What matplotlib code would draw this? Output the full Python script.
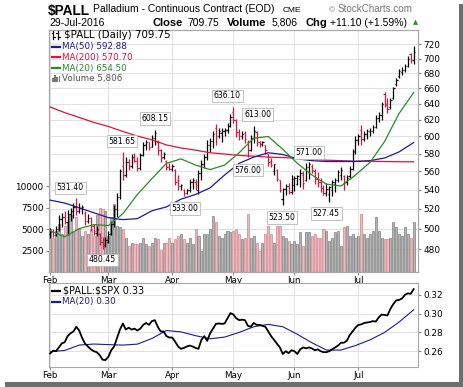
import numpy as np
import pandas as pd
import matplotlib
matplotlib.use('Agg')
import matplotlib.pyplot as plt
from matplotlib import transforms
from matplotlib.patches import Rectangle
from matplotlib.lines import Line2D
from matplotlib.ticker import NullLocator, NullFormatter, FixedLocator, FixedFormatter

# ---------------- data ----------------
holidays = ['2016-02-15', '2016-03-25', '2016-05-30', '2016-07-04']
dates = pd.bdate_range('2016-02-01', '2016-07-29')
dates = dates[~dates.isin(pd.to_datetime(holidays))]

opens = [495, 497, 494, 500, 510, 512, 507, 515, 518, 522, 518, 521, 516, 508, 511, 503, 496, 495, 487, 484,
         487, 495, 505, 520, 532, 566, 556, 570, 566, 576, 572, 564, 578, 590, 593, 588, 598, 594, 584, 576, 572, 565,
         563, 562, 550, 544, 540, 536, 540, 548, 548, 540, 558, 568, 576, 590, 595, 610, 600, 604, 607, 608, 613,
         630, 620, 605, 600, 604, 594, 584, 598, 605, 594, 591, 590, 580, 572, 560, 562, 550, 530, 541, 544, 538,
         545, 546, 552, 556, 550, 565, 566, 560, 552, 548, 542, 537, 535, 540, 546, 551, 556, 555, 548, 555, 563, 583,
         596, 608, 597, 603, 606, 607, 611, 622, 626, 652, 640, 636, 648, 665, 676, 682, 684, 690, 706, 698]
highs = [501, 500, 503, 514, 516, 518, 519, 521, 526, 531.40, 526, 524, 518, 515, 512, 505, 503, 496, 492, 492,
         498, 508, 524, 536, 563, 581.65, 576, 574, 580, 581, 576, 581, 594, 596, 594, 602, 608.15, 596, 585, 582, 573, 569,
         568, 563, 556, 546, 541, 541, 552, 553, 552, 562, 573, 580, 596, 598, 606, 615, 610, 610, 610, 616, 627,
         636.10, 621, 609, 606, 607, 596, 602, 613, 606, 595, 595, 590, 580, 575, 568, 563, 551, 542, 546, 547, 556,
         555, 556, 563, 560, 569, 571, 568, 563, 559, 553, 545, 547, 544, 551, 553, 562, 565, 556, 556, 566, 585, 600,
         603, 614, 606, 609, 610, 614, 626, 630, 642, 655, 647, 648, 662, 674, 686, 688, 692, 703, 708, 717]
lows = [491, 492, 493, 498, 502, 505, 494, 508, 511, 514, 516, 515, 504, 506, 498, 494, 493, 484, 480.45, 482,
        486, 494, 502, 512, 530, 550, 554, 561, 564, 570, 560, 562, 577, 584, 584, 588, 590, 578, 570, 574, 562, 561,
        560, 545, 540, 540, 533.00, 535, 538, 541, 540, 535, 551, 564, 573, 582, 587, 590, 598, 593, 600, 604, 611,
        616, 599, 596, 597, 592, 576.00, 583, 592, 589, 588, 589, 580, 566, 565, 556, 549, 538, 523.50, 534, 535, 535,
        539, 545, 543, 541, 549, 552, 558, 546, 543, 538, 534, 533, 527.45, 533, 538, 548, 551, 540, 545, 552, 562, 580,
        590, 590, 595, 597, 600, 604, 610, 618, 620, 636, 629, 634, 646, 663, 674, 678, 682, 688, 694, 692]
closes = [497, 494, 500, 510, 512, 507, 515, 518, 522, 518, 521, 522, 508, 511, 503, 498, 500, 487, 484, 489,
          495, 505, 520, 532, 560, 556, 570, 566, 576, 572, 564, 578, 590, 593, 588, 598, 604, 584, 575, 580, 565, 563,
          566, 548, 544, 545, 536, 540, 548, 550, 545, 558, 568, 576, 590, 595, 603, 600, 606, 607, 608, 613, 624,
          620, 605, 601, 603, 597, 584, 598, 606, 594, 591, 593, 584, 570, 567, 568, 552, 540, 541, 544, 538, 552,
          553, 555, 558, 547, 565, 568, 561, 552, 548, 542, 537, 541, 543, 548, 551, 559, 562, 547, 553, 563, 582, 596,
          600, 597, 603, 606, 607, 611, 622, 626, 640, 639, 633, 645, 660, 671, 683, 685, 690, 700, 698.65, 709.75]
volumes = [5000, 4000, 4800, 5600, 4400, 5400, 5800, 6600, 4600, 6400, 5000, 4200, 4800, 4400, 5000, 4200, 6600, 7500, 7300, 7100,
           4200, 6400, 7900, 5400, 5200, 5000, 4000, 3000, 3400, 3200, 3200, 3400, 4000, 3200, 3000, 3400, 4000, 3800, 2600, 3400, 3400, 4000,
           3400, 3800, 4200, 4400, 3800, 3400, 4000, 3200, 5000, 4200, 2400, 4400, 4400, 5000, 6500, 5800, 4200, 4000, 4400, 4800, 4600,
           4800, 5000, 4400, 3800, 4000, 6700, 4000, 4200, 3400, 2400, 3400, 4400, 5400, 4400, 3400, 5400, 5400, 4200, 4000, 3600, 3200,
           3600, 3200, 4600, 3000, 4600, 4600, 4200, 4400, 4000, 4000, 5000, 4800, 3600, 4000, 4600, 4800, 3000, 5200, 5400, 4200, 4400, 4000,
           4200, 6700, 4400, 4000, 4400, 4800, 6400, 4800, 4000, 3800, 3800, 4000, 5800, 5200, 4400, 4200, 5200, 4400, 4000, 5806]

# moving averages every 5 sessions
ma_pos = list(range(0, 126, 5))
ma50 = [529, 526, 521, 516, 511, 509, 510, 518, 522, 530, 535, 542, 556, 569, 576, 581, 579, 574, 572, 571,
        571, 571, 572, 575, 582, 592.88]
ma200 = [636, 629, 623, 617, 612, 606, 600.5, 596, 590, 586.5, 584, 581, 579.5, 578, 577, 576, 575.5, 574.5,
         573.5, 572.5, 572, 571.5, 571.2, 571, 570.8, 570.70]
ma20 = [498, 492, 500, 504, 503, 515, 535, 552, 569, 574, 567, 562, 567, 581, 598, 600, 585, 569, 556, 546,
        544, 556, 570, 594, 628, 654.50]

ratio = [0.2576, 0.2605, 0.2600, 0.2640, 0.2683, 0.2695, 0.2760, 0.2790, 0.2810, 0.2860, 0.2820, 0.2740, 0.2680,
         0.2650, 0.2620, 0.2600, 0.2590, 0.2560, 0.2510, 0.2505,
         0.2540, 0.2610, 0.2650, 0.2740, 0.2830, 0.2895, 0.2830, 0.2850, 0.2830, 0.2840, 0.2820, 0.2840, 0.2880,
         0.2900, 0.2880, 0.2920, 0.2930, 0.2860, 0.2810, 0.2810, 0.2760, 0.2745,
         0.2745, 0.2700, 0.2650, 0.2625, 0.2635, 0.2650, 0.2660, 0.2650, 0.2635, 0.2625, 0.2720, 0.2760, 0.2710,
         0.2790, 0.2840, 0.2890, 0.2895, 0.2890, 0.2895, 0.2950, 0.3005,
         0.2990, 0.2950, 0.2930, 0.2935, 0.2930, 0.2870, 0.2860, 0.2900, 0.2880, 0.2880, 0.2870, 0.2860, 0.2810,
         0.2760, 0.2720, 0.2680, 0.2640, 0.2570, 0.2600, 0.2580, 0.2610,
         0.2600, 0.2570, 0.2620, 0.2640, 0.2630, 0.2640, 0.2630, 0.2610, 0.2620, 0.2600, 0.2590, 0.2590, 0.2600,
         0.2620, 0.2640, 0.2660, 0.2690, 0.2690, 0.2710, 0.2770, 0.2810, 0.2850,
         0.2880, 0.2885, 0.2900, 0.2905, 0.2910, 0.2920, 0.2915, 0.2960, 0.2990, 0.2985, 0.2980, 0.3050, 0.3100,
         0.3140, 0.3145, 0.3160, 0.3200, 0.3215, 0.3210, 0.3260]
ratio_ma20 = [0.2594, 0.2608, 0.2665, 0.2676, 0.2670, 0.2665, 0.2675, 0.2735, 0.2820, 0.2805, 0.2765, 0.2732,
              0.2750, 0.2800, 0.2860, 0.2885, 0.2860, 0.2780, 0.2690, 0.2612, 0.2612, 0.2660, 0.2720, 0.2800,
              0.2910, 0.3040]

ann_pos = [9, 18, 25, 36, 46, 63, 68, 70, 80, 89, 96]
ann_kind = ['high', 'low', 'high', 'high', 'low', 'high', 'low', 'high', 'low', 'high', 'low']

price_ticks = [480, 500, 520, 540, 560, 580, 600, 620, 640, 660, 680, 700, 720]
vol_ticks = [2500, 5000, 7500, 10000]
ratio_ticks = [0.26, 0.28, 0.30, 0.32]
month_names = ['Feb', 'Mar', 'Apr', 'May', 'Jun', 'Jul']

# ---------------- figure ----------------
W, H = 464, 387
fig = plt.figure(figsize=(W / 100, H / 100), dpi=100)
fig.patch.set_facecolor('white')


def fx(px):
    return px / W


def fy(py):
    return 1 - py / H


RED = '#dc143c'
NAVY = '#1c1c8f'
GREEN = '#2a8a2a'
GRID = '#e2e2e2'
SPINE = '#a8a8a8'

x = np.arange(len(dates))
month_pos = [int(np.where(dates.month == m)[0][0]) for m in range(2, 8)]
up = np.r_[True, np.array(closes[1:]) >= np.array(closes[:-1])]
bar_cols = np.where(up, 'black', RED)
vol_fill = np.where(up, '#b5b5b5', '#f0b9bf')
vol_edge = np.where(up, '#808080', '#d2848e')

ax_v = fig.add_axes([fx(49), fy(272), fx(418) - fx(49), fy(30) - fy(272)])
ax_p = ax_v.twinx()
ax_r = fig.add_axes([fx(49), fy(367), fx(418) - fx(49), fy(283) - fy(367)])

xlim = (-0.4, 126.5)

# volume panel (left axis)
ax_v.set_xlim(*xlim)
ax_v.set_ylim(0, 28140)
trans = transforms.blended_transform_factory(ax_v.transAxes, ax_p.transData)
for t in price_ticks:
    ax_v.plot([0, 1], [t, t], transform=trans, color=GRID, lw=0.7, zorder=0)
for m in month_pos:
    ax_v.axvline(m, color=GRID, lw=0.7, zorder=0)
ax_v.bar(x, volumes, width=0.72, color=vol_fill, edgecolor=vol_edge, linewidth=0.5, zorder=2)
ax_v.set_yticks(vol_ticks)
ax_v.set_yticklabels([str(v) for v in vol_ticks])
ax_v.tick_params(axis='y', length=2.5, pad=1.5, labelsize=6.4, color='#888888')
ax_v.set_xticks(month_pos)
ax_v.set_xticklabels(month_names)
ax_v.tick_params(axis='x', length=2, pad=1.2, labelsize=6.3, color='#888888')

# price panel (right axis, log)
ax_p.set_yscale('log')
ax_p.set_ylim(458.9, 740.7)
ax_p.set_xlim(*xlim)
ax_p.vlines(x, lows, highs, colors=bar_cols, lw=0.9, zorder=3)
ax_p.hlines(opens, x - 0.45, x, colors=bar_cols, lw=0.9, zorder=3)
ax_p.hlines(closes, x, x + 0.45, colors=bar_cols, lw=0.9, zorder=3)
ax_p.plot(ma_pos, ma200, color=RED, lw=0.9, zorder=4)
ax_p.plot(ma_pos, ma50, color=NAVY, lw=0.9, zorder=5)
ax_p.plot(ma_pos, ma20, color=GREEN, lw=0.9, zorder=5)
ax_p.yaxis.set_major_locator(FixedLocator(price_ticks))
ax_p.yaxis.set_major_formatter(FixedFormatter([str(t) for t in price_ticks]))
ax_p.yaxis.set_minor_locator(NullLocator())
ax_p.yaxis.set_minor_formatter(NullFormatter())
ax_p.tick_params(axis='y', length=2.5, pad=1.5, labelsize=6.4, color='#888888')

offsets = {9: (-6, 10), 18: (0, -11), 25: (-1, 11), 36: (0, 11), 46: (1, -12), 63: (-6, 11),
           68: (0, -13), 70: (4, 11), 80: (-1, -12), 89: (0, 9), 96: (-3, -12)}
for i, kind in zip(ann_pos, ann_kind):
    val = highs[i] if kind == 'high' else lows[i]
    ax_p.annotate(f'{val:.2f}', xy=(i, val), xytext=offsets[i], textcoords='offset pixels',
                  ha='center', va='center', fontsize=5.6, zorder=6,
                  bbox=dict(boxstyle='square,pad=0.22', fc='white', ec='#b8b8b8', lw=0.6))

for a in (ax_v, ax_p, ax_r):
    for s in a.spines.values():
        s.set_color(SPINE)
        s.set_linewidth(0.8)

# ratio panel
ax_r.set_xlim(*xlim)
ax_r.set_ylim(0.2432, 0.3325)
for t in ratio_ticks:
    ax_r.axhline(t, color=GRID, lw=0.7, zorder=0)
for m in month_pos:
    ax_r.axvline(m, color=GRID, lw=0.7, zorder=0)
ax_r.plot(ma_pos, ratio_ma20, color=NAVY, lw=0.8, zorder=2)
ax_r.plot(x, ratio, color='black', lw=1.3, zorder=3)
ax_r.yaxis.tick_right()
ax_r.set_yticks(ratio_ticks)
ax_r.set_yticklabels([f'{t:.2f}' for t in ratio_ticks])
ax_r.tick_params(axis='y', length=2.5, pad=1.5, labelsize=6.4, color='#888888')
ax_r.set_xticks(month_pos)
ax_r.set_xticklabels(month_names)
ax_r.tick_params(axis='x', length=2, pad=1.2, labelsize=6.3, color='#888888')

# ---------------- header texts ----------------
AR = 'Liberation Sans'


def ftext(px, py, s, **kw):
    kw.setdefault('va', 'baseline')
    fig.text(fx(px), fy(py), s, parse_math=False, **kw)


ftext(48, 14.5, '$PALL', fontsize=9.8, fontweight='bold', family=AR)
ftext(93, 12.5, 'Palladium - Continuous Contract (EOD)', fontsize=7.5, family=AR)
ftext(283, 12.5, 'CME', fontsize=6.0, family=AR)
ftext(329, 12.5, '\u00a9', fontsize=6.0, family=AR, color='#777777')
ftext(338, 12.5, 'StockCharts.com', fontsize=7.1, family=AR, color='#777777')

chg = closes[-1] - closes[-2]
ftext(49, 25.5, dates[-1].strftime('%d-%b-%Y'), fontsize=7.5, family=AR)
ftext(152.5, 25.5, 'Close', fontsize=8, fontweight='bold', family=AR)
ftext(187.5, 25.5, f'{closes[-1]:.2f}', fontsize=7.5, family=AR)
ftext(226.5, 25.5, 'Volume', fontsize=8, fontweight='bold', family=AR)
ftext(271.5, 25.5, f'{volumes[-1]:,}', fontsize=7.5, family=AR)
ftext(306, 25.5, 'Chg', fontsize=8, fontweight='bold', family=AR)
ftext(330, 25.5, f'+{chg:.2f} (+{chg / closes[-2] * 100:.2f}%)', fontsize=7.5, family=AR)
ftext(412.5, 24.5, '\u25b2', fontsize=4.8, family='DejaVu Sans', color='#2e8b2e')

# ---------------- in-panel legends ----------------
DV = 'DejaVu Sans'


def fig_line(x0, x1, y0, y1, color, lw):
    fig.add_artist(Line2D([fx(x0), fx(x1)], [fy(y0), fy(y1)], color=color, lw=lw,
                          transform=fig.transFigure))


# OHLC icon
for bx in (53.5, 58):
    fig_line(bx, bx, 31, 38.5, 'black', 0.9)
    fig_line(bx - 1.5, bx, 33, 33, 'black', 0.8)
    fig_line(bx, bx + 1.5, 36.5, 36.5, 'black', 0.8)
ftext(64, 34.8, f'$PALL (Daily) {closes[-1]:.2f}', fontsize=7.4, family=DV, va='center')

legend_rows = [(46.6, NAVY, f'MA(50) {ma50[-1]:.2f}'),
               (57.4, RED, f'MA(200) {ma200[-1]:.2f}'),
               (68.3, GREEN, f'MA(20) {ma20[-1]:.2f}')]
for yy, col, txt in legend_rows:
    fig_line(51.5, 60.5, yy, yy, col, 1.6)
    ftext(62, yy, txt, fontsize=6.3, family=DV, color=col, va='center')

for k, hh in enumerate([4, 7, 5, 6]):
    fig.add_artist(Rectangle((fx(52 + 2.2 * k), fy(82)), fx(1.6), hh / H, transform=fig.transFigure,
                             facecolor='#777777', edgecolor='none'))
ftext(62, 78.8, f'Volume {volumes[-1]:,}', fontsize=6.3, family=DV, color='#555555', va='center')

fig_line(51.5, 60, 290.8, 290.8, 'black', 1.6)
ftext(63, 290.8, f'$PALL:$SPX {ratio[-1]:.2f}', fontsize=6.9, family=DV, va='center')
fig_line(51.5, 60, 301.8, 301.8, NAVY, 1.6)
ftext(62, 301.8, f'MA(20) {ratio_ma20[-1]:.2f}', fontsize=6.3, family=DV, color=NAVY, va='center')

# ---------------- drop shadow ----------------
fig.add_artist(Rectangle((fx(459.5), fy(386.5)), fx(4), (386.5 - 4) / H, transform=fig.transFigure,
                         facecolor='#6e6e6e', edgecolor='none'))
fig.add_artist(Rectangle((fx(5), fy(386.5)), fx(458), 4.5 / H, transform=fig.transFigure,
                         facecolor='#6e6e6e', edgecolor='none'))

fig.savefig('out.png', dpi=100, facecolor='white')
